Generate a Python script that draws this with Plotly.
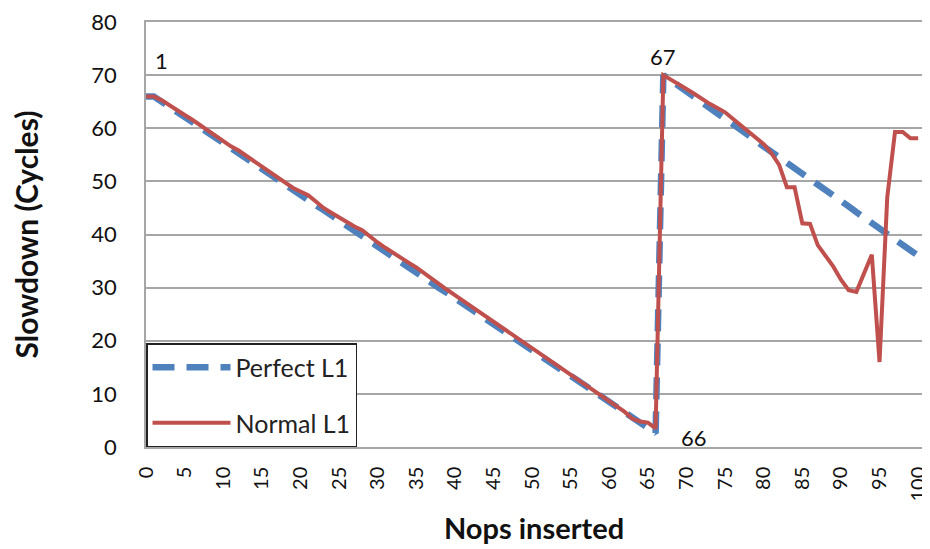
import plotly.graph_objects as go

nops = list(range(101))

perfect_l1 = [
    66.0, 66.0, 65.0, 64.1, 63.1, 62.1, 61.1, 60.2, 59.2, 58.2,
    57.2, 56.3, 55.3, 54.3, 53.3, 52.4, 51.4, 50.4, 49.4, 48.5,
    47.5, 46.5, 45.5, 44.6, 43.6, 42.6, 41.6, 40.7, 39.7, 38.7,
    37.7, 36.8, 35.8, 34.8, 33.8, 32.9, 31.9, 30.9, 29.9, 29.0,
    28.0, 27.0, 26.0, 25.1, 24.1, 23.1, 22.1, 21.2, 20.2, 19.2,
    18.2, 17.3, 16.3, 15.3, 14.3, 13.4, 12.4, 11.4, 10.4, 9.5,
    8.5, 7.5, 6.5, 5.6, 4.6, 3.6, 2.6, 70.0, 69.0, 67.9,
    66.9, 65.9, 64.8, 63.8, 62.8, 61.8, 60.7, 59.7, 58.7, 57.6,
    56.6, 55.6, 54.5, 53.5, 52.5, 51.5, 50.4, 49.4, 48.4, 47.3,
    46.3, 45.3, 44.2, 43.2, 42.2, 41.2, 40.1, 39.1, 38.1, 37.0,
    36.0,
]

normal_l1 = [
    66.0, 66.0, 65.3, 64.3, 63.5, 62.5, 61.6, 60.6, 59.6, 58.6,
    57.5, 56.6, 55.8, 54.8, 53.8, 52.8, 51.8, 50.8, 49.6, 48.8,
    48.1, 47.4, 46.2, 45.0, 44.1, 43.2, 42.2, 41.5, 40.8, 39.6,
    38.5, 37.5, 36.5, 35.6, 34.7, 33.8, 32.7, 31.7, 30.6, 29.6,
    28.6, 27.6, 26.6, 25.6, 24.5, 23.5, 22.5, 21.6, 20.6, 19.6,
    18.6, 17.6, 16.6, 15.6, 14.6, 13.6, 12.6, 11.6, 10.6, 9.6,
    8.6, 7.6, 6.6, 5.3, 4.8, 4.6, 3.5, 70.0, 69.2, 68.3,
    67.4, 66.5, 65.5, 64.6, 63.8, 63.0, 61.8, 60.6, 59.4, 58.2,
    57.0, 55.3, 53.1, 48.9, 48.9, 42.1, 42.0, 38.0, 36.0, 34.0,
    31.5, 29.5, 29.2, 32.6, 36.2, 16.0, 47.0, 59.3, 59.3, 58.1,
    58.1,
]

x_ticks = list(range(0, 101, 5))
y_ticks = list(range(0, 81, 10))

FONT = "Lato"

fig = go.Figure()
fig.add_trace(go.Scatter(
    x=nops, y=perfect_l1, mode="lines", name="Perfect L1",
    line=dict(color="#4F81BD", width=6.5, dash="22px,12px"),
    legendgroup="a",
))
fig.add_trace(go.Scatter(
    x=nops, y=normal_l1, mode="lines", name="Normal L1",
    line=dict(color="#C0504D", width=4),
    legendgroup="b",
))

for txt, ax, ay in [("1", 2.0, 72.8), ("67", 67.0, 73.5), ("66", 71.0, 1.8)]:
    fig.add_annotation(x=ax, y=ay, text=txt, showarrow=False,
                       font=dict(family=FONT, size=22, color="#111"))

# the page body has an 8px default margin, so the figure is drawn 8px smaller
fig.update_layout(
    width=922, height=541,
    margin=dict(l=138, r=8, t=14, b=102),
    paper_bgcolor="white", plot_bgcolor="white",
    font=dict(family=FONT, size=20, color="#111"),
    showlegend=True,
    legend=dict(x=0, y=0, xanchor="left", yanchor="bottom",
                bgcolor="white", bordercolor="#222", borderwidth=1.5,
                font=dict(family=FONT, size=25, color="#222"),
                tracegroupgap=20, itemwidth=78),
)
fig.update_xaxes(
    range=[0, 100.5], tickmode="array", tickvals=x_ticks,
    ticktext=[str(v) for v in x_ticks], tickangle=-90,
    showgrid=False, zeroline=False, automargin=False,
    showline=True, linecolor="#A6A6A6", linewidth=1.5, mirror=True,
    tickfont=dict(family=FONT, size=20, color="#111"),
    ticklabelstandoff=10, ticklabeloverflow="allow",
    title=dict(text="<b>Nops inserted</b>", font=dict(family=FONT, size=29, color="#111"), standoff=18),
)
fig.update_yaxes(
    range=[0, 80], tickmode="array", tickvals=y_ticks,
    showgrid=True, gridcolor="#A6A6A6", gridwidth=1.5, zeroline=False,
    showline=True, linecolor="#A6A6A6", linewidth=1.5, mirror=True,
    automargin=False,
    tickfont=dict(family=FONT, size=22, color="#111"),
    ticklabelstandoff=23, ticklabeloverflow="allow",
    title=dict(text="<b>Slowdown (Cycles)</b>", font=dict(family=FONT, size=30, color="#111"), standoff=50),
)

fig.write_html("out.html")
